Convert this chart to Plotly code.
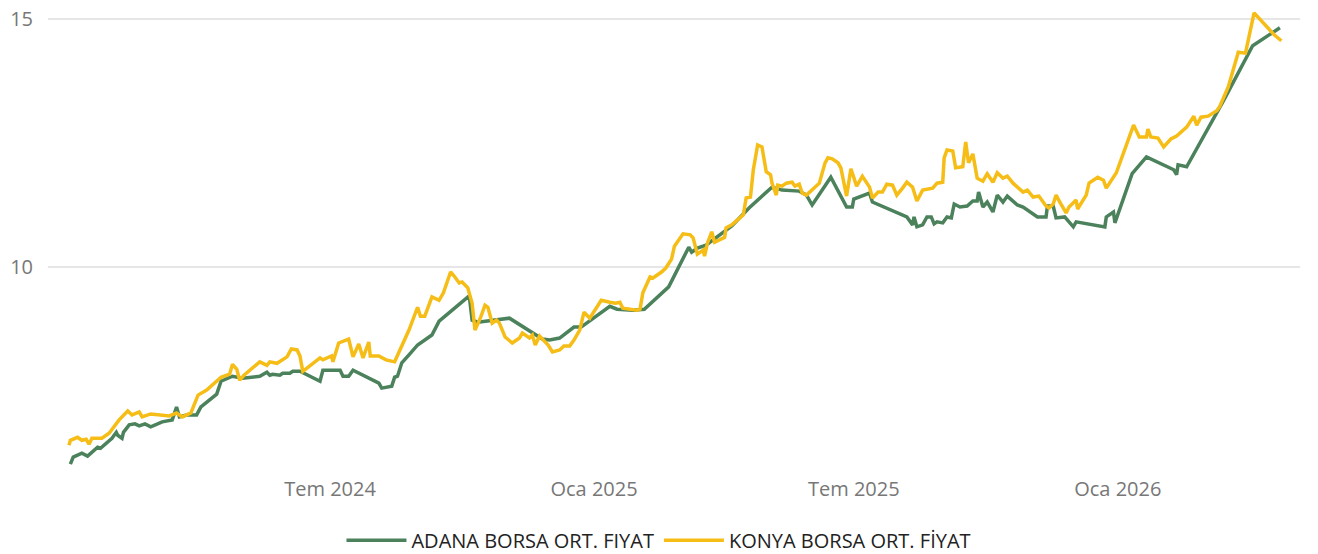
import plotly.graph_objects as go

# ADANA BORSA ORT. FIYAT
adana_dates = [
    "2024-01-02", "2024-01-04", "2024-01-10", "2024-01-14", "2024-01-21", "2024-01-23",
    "2024-01-31", "2024-02-03", "2024-02-04", "2024-02-07", "2024-02-08", "2024-02-12",
    "2024-02-16", "2024-02-19", "2024-02-23", "2024-02-27", "2024-03-06", "2024-03-10",
    "2024-03-13", "2024-03-16", "2024-03-18", "2024-03-23", "2024-03-30", "2024-04-02",
    "2024-04-13", "2024-04-16", "2024-04-24", "2024-05-01", "2024-05-13", "2024-05-18",
    "2024-05-20", "2024-05-22", "2024-05-27", "2024-05-29", "2024-06-03", "2024-06-05",
    "2024-06-10", "2024-06-24", "2024-06-26", "2024-07-08", "2024-07-10", "2024-07-14",
    "2024-07-17", "2024-08-04", "2024-08-06", "2024-08-13", "2024-08-15", "2024-08-17",
    "2024-08-20", "2024-08-25", "2024-08-31", "2024-09-10", "2024-09-15", "2024-10-06",
    "2024-10-08", "2024-10-12", "2024-10-27", "2024-11-03", "2024-11-26", "2024-12-01",
    "2024-12-08", "2024-12-18", "2024-12-23", "2025-01-12", "2025-01-17", "2025-01-28",
    "2025-02-05", "2025-02-22", "2025-03-08", "2025-03-10", "2025-03-14", "2025-03-20",
    "2025-04-07", "2025-04-19", "2025-05-05", "2025-05-12", "2025-05-24", "2025-05-29",
    "2025-06-02", "2025-06-15", "2025-06-26", "2025-06-30", "2025-07-01", "2025-07-12",
    "2025-07-14", "2025-08-07", "2025-08-11", "2025-08-12", "2025-08-14", "2025-08-18",
    "2025-08-21", "2025-08-24", "2025-08-26", "2025-08-28", "2025-09-01", "2025-09-04",
    "2025-09-07", "2025-09-09", "2025-09-13", "2025-09-18", "2025-09-22", "2025-09-25",
    "2025-09-26", "2025-09-29", "2025-10-02", "2025-10-06", "2025-10-09", "2025-10-13",
    "2025-10-16", "2025-10-23", "2025-10-27", "2025-11-06", "2025-11-12", "2025-11-13",
    "2025-11-17", "2025-11-19", "2025-11-25", "2025-12-01", "2025-12-03", "2025-12-23",
    "2025-12-24", "2025-12-29", "2025-12-30", "2026-01-11", "2026-01-21", "2026-02-09",
    "2026-02-11", "2026-02-12", "2026-02-18", "2026-03-11", "2026-03-16", "2026-04-05",
    "2026-04-15", "2026-04-19", "2026-04-24",
]
adana_values = [
    6.03, 6.17, 6.25, 6.19, 6.37, 6.35,
    6.55, 6.67, 6.61, 6.55, 6.67, 6.82,
    6.84, 6.80, 6.84, 6.78, 6.88, 6.90,
    6.92, 7.18, 6.98, 7.02, 7.02, 7.18,
    7.44, 7.70, 7.80, 7.76, 7.80, 7.88,
    7.82, 7.84, 7.82, 7.86, 7.86, 7.90,
    7.90, 7.70, 7.92, 7.92, 7.80, 7.80,
    7.92, 7.66, 7.56, 7.60, 7.78, 7.80,
    8.07, 8.23, 8.43, 8.63, 8.91, 9.42,
    8.93, 8.89, 8.95, 8.97, 8.55, 8.53,
    8.57, 8.79, 8.79, 9.21, 9.15, 9.13,
    9.15, 9.60, 10.40, 10.30, 10.38, 10.44,
    10.83, 11.19, 11.61, 11.55, 11.53, 11.45,
    11.25, 11.81, 11.21, 11.21, 11.37, 11.49,
    11.31, 11.01, 10.85, 11.01, 10.81, 10.85,
    11.01, 11.01, 10.87, 10.91, 10.89, 11.01,
    10.99, 11.27, 11.21, 11.23, 11.33, 11.33,
    11.51, 11.21, 11.31, 11.11, 11.45, 11.31,
    11.43, 11.25, 11.21, 11.01, 11.01, 11.23,
    11.23, 10.99, 11.01, 10.81, 10.91, 10.81,
    11.01, 11.11, 10.89, 11.88, 12.22, 11.96,
    11.86, 12.06, 12.02, 13.10, 13.37, 14.46,
    14.66, 14.72, 14.82,
]

# KONYA BORSA ORT. FİYAT
konya_dates = [
    "2024-01-01", "2024-01-02", "2024-01-07", "2024-01-10", "2024-01-13", "2024-01-15",
    "2024-01-17", "2024-01-24", "2024-01-29", "2024-02-05", "2024-02-11", "2024-02-14",
    "2024-02-19", "2024-02-21", "2024-02-27", "2024-03-11", "2024-03-16", "2024-03-20",
    "2024-03-26", "2024-03-31", "2024-04-06", "2024-04-16", "2024-04-22", "2024-04-24",
    "2024-04-27", "2024-04-29", "2024-05-02", "2024-05-09", "2024-05-13", "2024-05-18",
    "2024-05-20", "2024-05-25", "2024-06-01", "2024-06-04", "2024-06-08", "2024-06-10",
    "2024-06-12", "2024-06-24", "2024-06-26", "2024-07-02", "2024-07-03", "2024-07-07",
    "2024-07-14", "2024-07-17", "2024-07-21", "2024-07-24", "2024-07-28", "2024-07-29",
    "2024-08-04", "2024-08-09", "2024-08-15", "2024-08-25", "2024-08-31", "2024-09-02",
    "2024-09-05", "2024-09-10", "2024-09-15", "2024-09-18", "2024-09-23", "2024-09-26",
    "2024-09-29", "2024-10-01", "2024-10-05", "2024-10-08", "2024-10-10", "2024-10-14",
    "2024-10-17", "2024-10-19", "2024-10-22", "2024-10-25", "2024-10-27", "2024-10-31",
    "2024-11-05", "2024-11-10", "2024-11-12", "2024-11-17", "2024-11-19", "2024-11-21",
    "2024-11-24", "2024-11-30", "2024-12-03", "2024-12-08", "2024-12-11", "2024-12-15",
    "2024-12-18", "2024-12-22", "2024-12-25", "2024-12-29", "2025-01-06", "2025-01-12",
    "2025-01-16", "2025-01-19", "2025-01-21", "2025-01-26", "2025-01-31", "2025-02-02",
    "2025-02-04", "2025-02-09", "2025-02-11", "2025-02-17", "2025-02-20", "2025-02-24",
    "2025-02-26", "2025-03-04", "2025-03-09", "2025-03-11", "2025-03-14", "2025-03-18",
    "2025-03-19", "2025-03-21", "2025-03-24", "2025-03-26", "2025-03-30", "2025-04-02",
    "2025-04-03", "2025-04-07", "2025-04-11", "2025-04-15", "2025-04-17", "2025-04-20",
    "2025-04-22", "2025-04-25", "2025-04-28", "2025-05-01", "2025-05-04", "2025-05-05",
    "2025-05-08", "2025-05-09", "2025-05-12", "2025-05-15", "2025-05-19", "2025-05-21",
    "2025-05-24", "2025-05-26", "2025-05-29", "2025-06-02", "2025-06-07", "2025-06-11",
    "2025-06-13", "2025-06-16", "2025-06-20", "2025-06-22", "2025-06-24", "2025-06-26",
    "2025-06-29", "2025-07-01", "2025-07-03", "2025-07-07", "2025-07-12", "2025-07-14",
    "2025-07-18", "2025-07-21", "2025-07-24", "2025-07-28", "2025-07-31", "2025-08-04",
    "2025-08-07", "2025-08-11", "2025-08-14", "2025-08-18", "2025-08-25", "2025-08-28",
    "2025-09-01", "2025-09-02", "2025-09-04", "2025-09-08", "2025-09-10", "2025-09-15",
    "2025-09-17", "2025-09-19", "2025-09-22", "2025-09-25", "2025-09-29", "2025-10-02",
    "2025-10-06", "2025-10-09", "2025-10-13", "2025-10-16", "2025-10-20", "2025-10-27",
    "2025-10-30", "2025-11-03", "2025-11-07", "2025-11-12", "2025-11-14", "2025-11-17",
    "2025-11-19", "2025-11-22", "2025-11-26", "2025-11-28", "2025-12-03", "2025-12-04",
    "2025-12-10", "2025-12-12", "2025-12-18", "2025-12-22", "2025-12-24", "2025-12-31",
    "2026-01-12", "2026-01-16", "2026-01-21", "2026-01-22", "2026-01-24", "2026-01-29",
    "2026-02-02", "2026-02-07", "2026-02-11", "2026-02-18", "2026-02-23", "2026-02-25",
    "2026-02-28", "2026-03-05", "2026-03-11", "2026-03-13", "2026-03-19", "2026-03-26",
    "2026-03-31", "2026-04-06", "2026-04-20", "2026-04-25",
]
konya_values = [
    6.41, 6.51, 6.57, 6.51, 6.53, 6.43,
    6.55, 6.55, 6.65, 6.92, 7.10, 7.02,
    7.08, 6.98, 7.04, 7.00, 7.06, 6.98,
    7.06, 7.42, 7.52, 7.78, 7.84, 8.04,
    7.94, 7.72, 7.82, 8.00, 8.09, 8.02,
    8.09, 8.06, 8.19, 8.35, 8.33, 8.21,
    7.90, 8.17, 8.13, 8.21, 8.09, 8.47,
    8.55, 8.19, 8.45, 8.17, 8.49, 8.21,
    8.21, 8.13, 8.09, 8.73, 9.19, 9.01,
    9.01, 9.40, 9.33, 9.48, 9.90, 9.80,
    9.68, 9.70, 9.58, 9.27, 8.73, 8.99,
    9.23, 9.19, 8.87, 8.93, 8.87, 8.59,
    8.47, 8.57, 8.67, 8.57, 8.63, 8.43,
    8.61, 8.43, 8.29, 8.33, 8.41, 8.41,
    8.53, 8.73, 9.09, 8.97, 9.33, 9.29,
    9.27, 9.29, 9.17, 9.15, 9.13, 9.15,
    9.48, 9.80, 9.78, 9.90, 9.98, 10.16,
    10.42, 10.67, 10.65, 10.59, 10.26, 10.34,
    10.22, 10.48, 10.71, 10.50, 10.56, 10.60,
    10.79, 10.85, 10.95, 11.05, 11.39, 11.41,
    11.96, 12.46, 12.42, 11.92, 11.86, 11.69,
    11.45, 11.65, 11.63, 11.69, 11.71, 11.63,
    11.67, 11.49, 11.45, 11.55, 11.69, 12.10,
    12.20, 12.18, 12.10, 12.00, 11.69, 11.43,
    11.98, 11.81, 11.63, 11.83, 11.61, 11.39,
    11.51, 11.51, 11.67, 11.65, 11.45, 11.59,
    11.71, 11.61, 11.33, 11.55, 11.59, 11.69,
    11.71, 12.20, 12.36, 12.34, 12.00, 12.02,
    12.52, 12.10, 12.28, 11.79, 11.73, 11.88,
    11.71, 11.90, 11.79, 11.83, 11.69, 11.51,
    11.55, 11.41, 11.43, 11.23, 11.19, 11.27,
    11.45, 11.29, 11.09, 11.21, 11.35, 11.17,
    11.45, 11.69, 11.81, 11.75, 11.59, 11.90,
    12.86, 12.62, 12.62, 12.78, 12.62, 12.60,
    12.42, 12.58, 12.64, 12.82, 13.04, 12.86,
    13.02, 13.04, 13.15, 13.23, 13.63, 14.33,
    14.31, 15.12, 14.68, 14.56,
]

x_tick_dates = ["2024-07-01", "2025-01-01", "2025-07-01", "2026-01-01"]
x_tick_labels = ["Tem 2024", "Oca 2025", "Tem 2025", "Oca 2026"]
y_tick_values = [10, 15]

FONT = "Segoe UI, Open Sans, Noto Sans, sans-serif"
GREEN = "#4b825c"
YELLOW = "#f5bd16"

fig = go.Figure()
fig.add_trace(go.Scatter(
    x=adana_dates, y=adana_values, mode="lines",
    name="ADANA BORSA ORT. FIYAT",
    line=dict(color=GREEN, width=3.5),
))
fig.add_trace(go.Scatter(
    x=konya_dates, y=konya_values, mode="lines",
    name="KONYA BORSA ORT. FİYAT",
    line=dict(color=YELLOW, width=3.5),
))

fig.update_layout(
    width=1318, height=554,
    margin=dict(l=48, r=18, t=5, b=79, autoexpand=False),
    paper_bgcolor="white", plot_bgcolor="white",
    font=dict(family=FONT, color="#777777", size=20),
    showlegend=True,
    legend=dict(
        orientation="h", x=0.488, xanchor="center",
        yref="container", y=0.025, yanchor="middle",
        font=dict(family=FONT, size=20, color="#222222"),
        itemwidth=60, tracegroupgap=0,
    ),
    xaxis=dict(
        type="date",
        range=["2023-12-17 10:00", "2026-05-08"],
        tickvals=x_tick_dates, ticktext=x_tick_labels,
        showgrid=False, zeroline=False, showline=False, ticks="",
        tickfont=dict(family=FONT, size=20, color="#777777"),
    ),
    yaxis=dict(
        range=[5.81, 15.28],
        tickvals=y_tick_values,
        showgrid=True, gridcolor="#e6e6e6", gridwidth=2,
        zeroline=False, showline=False, ticks="",
        ticklabelstandoff=14,
        tickfont=dict(family=FONT, size=20, color="#777777"),
    ),
)

fig.write_html("out.html")
